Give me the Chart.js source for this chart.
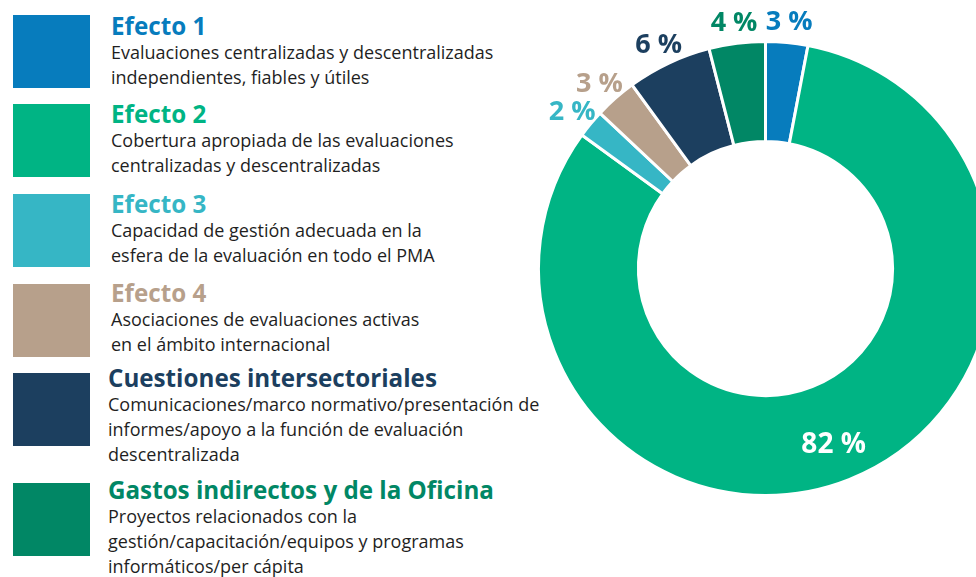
<!DOCTYPE html>
<html>
<head>
<meta charset="utf-8">
<script src="https://cdn.jsdelivr.net/npm/chart.js@4/dist/chart.umd.min.js"></script>
<style>
  html, body { margin: 0; padding: 0; background: #fff; overflow: hidden; }
  body { width: 976px; height: 577px; position: relative; font-family: "Open Sans", sans-serif; }
  #chartBox { position: absolute; left: 506px; top: 0; width: 500px; height: 577px; }
  .swatch { position: absolute; left: 13px; width: 77px; height: 73px; }
  .item { position: absolute; left: 111px; width: 460px; }
  .item h3 { margin: 0; font-size: 24.2px; line-height: 28px; font-weight: 700; white-space: nowrap; }
  .item p { margin: 0; font-size: 18px; line-height: 25px; color: #1f1f1f; white-space: nowrap; }
</style>
</head>
<body>
<div id="legend"></div>
<div id="chartBox"><canvas id="donut" width="500" height="577"></canvas></div>
<script>
// data
const categories = ['Efecto 1', 'Efecto 2', 'Efecto 3', 'Efecto 4', 'Cuestiones intersectoriales', 'Gastos indirectos y de la Oficina'];
const descriptions = [
    'Evaluaciones centralizadas y descentralizadas<br>independientes, fiables y útiles',
    'Cobertura apropiada de las evaluaciones<br>centralizadas y descentralizadas',
    'Capacidad de gestión adecuada en la<br>esfera de la evaluación en todo el PMA',
    'Asociaciones de evaluaciones activas<br>en el ámbito internacional',
    'Comunicaciones/marco normativo/presentación de<br>informes/apoyo a la función de evaluación<br>descentralizada',
    'Proyectos relacionados con la<br>gestión/capacitación/equipos y programas<br>informáticos/per cápita'
];
const shares = [3, 82, 2, 3, 6, 4];
const colors = ['#077cbd', '#00b484', '#36b6c5', '#b7a08b', '#1c3f5f', '#018765'];

// legend on the left, blocks placed like the original
const swatchTops = [15, 104, 194, 284, 373, 483];
const textTops = [12, 100, 190, 279, 364, 476];
let legend = document.querySelector('#legend');
categories.forEach(function(name, i) {
    let sw = document.createElement('div');
    sw.className = 'swatch';
    sw.style.top = swatchTops[i] + 'px';
    sw.style.background = colors[i];
    legend.append(sw);
    let it = document.createElement('div');
    it.className = 'item';
    it.style.top = textTops[i] + 'px';
    if (i >= 4) it.style.left = '108px';
    it.innerHTML = '<h3 style="color:' + colors[i] + '">' + name + '</h3><p>' + descriptions[i] + '</p>';
    legend.append(it);
});

const pctLabels = {
    id: 'pctLabels',
    afterDatasetsDraw(chart) {
        const ctx = chart.ctx;
        const arcs = chart.getDatasetMeta(0).data;
        ctx.save();
        ctx.textAlign = 'center';
        ctx.textBaseline = 'middle';
        arcs.forEach(function(arc, i) {
            const p = arc.getProps(['x', 'y', 'startAngle', 'endAngle', 'innerRadius', 'outerRadius'], true);
            const mid = (p.startAngle + p.endAngle) / 2;
            let r;
            if (shares[i] > 50) {
                r = (p.innerRadius + p.outerRadius) / 2 + 8;
                ctx.fillStyle = '#ffffff';
                ctx.font = 'bold 28px "Open Sans"';
            } else {
                r = p.outerRadius + 24;
                ctx.fillStyle = colors[i];
                ctx.font = 'bold 27px "Open Sans"';
            }
            ctx.fillText(shares[i] + ' %', p.x + Math.cos(mid) * r, p.y + Math.sin(mid) * r + 4);
        });
        ctx.restore();
    }
};

new Chart(document.querySelector('#donut'), {
    type: 'doughnut',
    data: {
        labels: categories,
        datasets: [{
            data: shares,
            backgroundColor: colors,
            borderColor: '#ffffff',
            borderWidth: 3
        }]
    },
    options: {
        responsive: false,
        animation: false,
        cutout: '56%',
        layout: { padding: { left: 31, right: 12, top: 40, bottom: 80 } },
        plugins: { legend: { display: false }, tooltip: { enabled: false } }
    },
    plugins: [pctLabels]
});
</script>
</body>
</html>
